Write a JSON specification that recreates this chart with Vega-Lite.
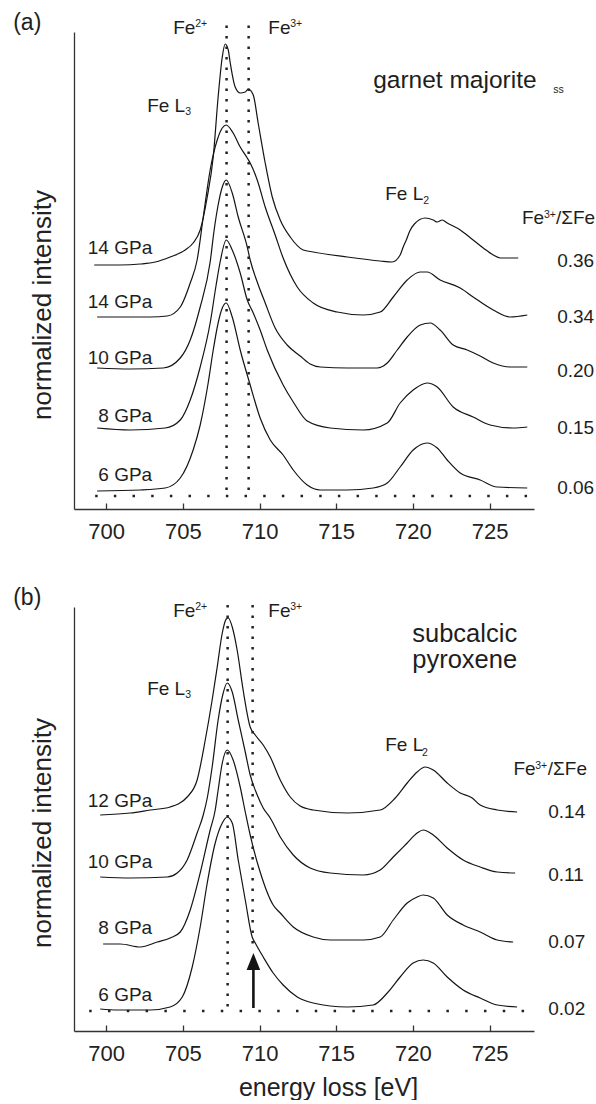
{
"$schema": "https://vega.github.io/schema/vega-lite/v6.json",
"padding": {"left": 13, "top": 12, "right": 0, "bottom": 0},
"background": "white",
"spacing": 98,
"bounds": "flush",
"config": {"view": {"stroke": null}, "font": "Liberation Sans", "text": {"font": "Liberation Sans"}},
"datasets": {
"spectra": [
{"p":"a","s":"a1","E":699.22,"I":24.4},{"p":"a","s":"a1","E":700.91,"I":24.4},{"p":"a","s":"a1","E":702.22,"I":24.5},{"p":"a","s":"a1","E":703.2,"I":24.7},{"p":"a","s":"a1","E":704.17,"I":25.2},{"p":"a","s":"a1","E":705.15,"I":25.9},{"p":"a","s":"a1","E":705.67,"I":26.6},{"p":"a","s":"a1","E":706.13,"I":27.9},{"p":"a","s":"a1","E":706.59,"I":31.2},{"p":"a","s":"a1","E":706.98,"I":35.2},{"p":"a","s":"a1","E":707.3,"I":41.2},{"p":"a","s":"a1","E":707.57,"I":45.2},{"p":"a","s":"a1","E":707.76,"I":46.5},{"p":"a","s":"a1","E":707.96,"I":45.9},{"p":"a","s":"a1","E":708.09,"I":44.6},{"p":"a","s":"a1","E":708.41,"I":42.2},{"p":"a","s":"a1","E":708.74,"I":41.6},{"p":"a","s":"a1","E":709.07,"I":41.7},{"p":"a","s":"a1","E":709.26,"I":42.0},{"p":"a","s":"a1","E":709.59,"I":41.4},{"p":"a","s":"a1","E":709.91,"I":38.6},{"p":"a","s":"a1","E":710.37,"I":34.6},{"p":"a","s":"a1","E":710.83,"I":31.2},{"p":"a","s":"a1","E":711.35,"I":28.9},{"p":"a","s":"a1","E":712.0,"I":27.2},{"p":"a","s":"a1","E":712.85,"I":25.9},{"p":"a","s":"a1","E":713.5,"I":25.7},{"p":"a","s":"a1","E":715.72,"I":25.2},{"p":"a","s":"a1","E":717.87,"I":24.8},{"p":"a","s":"a1","E":718.65,"I":24.7},{"p":"a","s":"a1","E":719.17,"I":25.4},{"p":"a","s":"a1","E":719.37,"I":26.2},{"p":"a","s":"a1","E":719.57,"I":26.9},{"p":"a","s":"a1","E":719.8,"I":27.8},{"p":"a","s":"a1","E":720.1,"I":28.5},{"p":"a","s":"a1","E":720.8,"I":29.1},{"p":"a","s":"a1","E":721.33,"I":28.9},{"p":"a","s":"a1","E":721.59,"I":28.7},{"p":"a","s":"a1","E":721.91,"I":28.9},{"p":"a","s":"a1","E":722.24,"I":28.6},{"p":"a","s":"a1","E":723.09,"I":27.9},{"p":"a","s":"a1","E":723.93,"I":26.9},{"p":"a","s":"a1","E":724.59,"I":26.1},{"p":"a","s":"a1","E":725.24,"I":25.4},{"p":"a","s":"a1","E":725.7,"I":25.1},{"p":"a","s":"a1","E":726.87,"I":25.1},
{"p":"a","s":"a2","E":699.41,"I":19.2},{"p":"a","s":"a2","E":700.91,"I":19.2},{"p":"a","s":"a2","E":702.87,"I":19.2},{"p":"a","s":"a2","E":703.98,"I":19.3},{"p":"a","s":"a2","E":704.83,"I":20.2},{"p":"a","s":"a2","E":705.48,"I":22.6},{"p":"a","s":"a2","E":705.93,"I":24.9},{"p":"a","s":"a2","E":706.33,"I":29.2},{"p":"a","s":"a2","E":706.78,"I":33.9},{"p":"a","s":"a2","E":707.24,"I":36.9},{"p":"a","s":"a2","E":707.57,"I":38.1},{"p":"a","s":"a2","E":707.83,"I":38.4},{"p":"a","s":"a2","E":708.28,"I":37.6},{"p":"a","s":"a2","E":708.74,"I":36.2},{"p":"a","s":"a2","E":709.2,"I":35.1},{"p":"a","s":"a2","E":709.39,"I":34.6},{"p":"a","s":"a2","E":709.85,"I":32.9},{"p":"a","s":"a2","E":710.37,"I":30.2},{"p":"a","s":"a2","E":711.02,"I":27.4},{"p":"a","s":"a2","E":711.54,"I":25.1},{"p":"a","s":"a2","E":712.46,"I":22.2},{"p":"a","s":"a2","E":713.5,"I":20.6},{"p":"a","s":"a2","E":715.07,"I":19.7},{"p":"a","s":"a2","E":716.76,"I":19.4},{"p":"a","s":"a2","E":717.87,"I":19.7},{"p":"a","s":"a2","E":718.72,"I":21.2},{"p":"a","s":"a2","E":719.63,"I":22.9},{"p":"a","s":"a2","E":720.48,"I":23.7},{"p":"a","s":"a2","E":720.93,"I":23.7},{"p":"a","s":"a2","E":721.78,"I":22.9},{"p":"a","s":"a2","E":723.09,"I":22.1},{"p":"a","s":"a2","E":723.93,"I":21.2},{"p":"a","s":"a2","E":725.24,"I":19.9},{"p":"a","s":"a2","E":726.35,"I":19.2},{"p":"a","s":"a2","E":727.46,"I":19.4},
{"p":"a","s":"a3","E":699.41,"I":14.1},{"p":"a","s":"a3","E":701.57,"I":14.0},{"p":"a","s":"a3","E":703.72,"I":14.1},{"p":"a","s":"a3","E":704.83,"I":15.1},{"p":"a","s":"a3","E":705.48,"I":16.9},{"p":"a","s":"a3","E":706.13,"I":20.2},{"p":"a","s":"a3","E":706.78,"I":24.7},{"p":"a","s":"a3","E":707.04,"I":27.9},{"p":"a","s":"a3","E":707.3,"I":30.4},{"p":"a","s":"a3","E":707.57,"I":32.2},{"p":"a","s":"a3","E":707.83,"I":32.9},{"p":"a","s":"a3","E":708.22,"I":31.6},{"p":"a","s":"a3","E":708.61,"I":29.2},{"p":"a","s":"a3","E":709.2,"I":26.2},{"p":"a","s":"a3","E":709.39,"I":24.9},{"p":"a","s":"a3","E":709.85,"I":22.7},{"p":"a","s":"a3","E":710.37,"I":20.6},{"p":"a","s":"a3","E":711.02,"I":18.1},{"p":"a","s":"a3","E":711.8,"I":16.4},{"p":"a","s":"a3","E":712.65,"I":15.3},{"p":"a","s":"a3","E":713.3,"I":14.5},{"p":"a","s":"a3","E":713.96,"I":14.2},{"p":"a","s":"a3","E":715.72,"I":14.1},{"p":"a","s":"a3","E":717.67,"I":14.1},{"p":"a","s":"a3","E":718.33,"I":14.6},{"p":"a","s":"a3","E":718.98,"I":15.9},{"p":"a","s":"a3","E":719.63,"I":17.2},{"p":"a","s":"a3","E":720.48,"I":18.4},{"p":"a","s":"a3","E":721.13,"I":18.6},{"p":"a","s":"a3","E":721.78,"I":17.9},{"p":"a","s":"a3","E":722.63,"I":16.4},{"p":"a","s":"a3","E":723.54,"I":15.9},{"p":"a","s":"a3","E":724.39,"I":15.3},{"p":"a","s":"a3","E":725.24,"I":14.6},{"p":"a","s":"a3","E":726.35,"I":14.2},{"p":"a","s":"a3","E":727.46,"I":14.2},
{"p":"a","s":"a4","E":699.41,"I":8.1},{"p":"a","s":"a4","E":701.57,"I":7.9},{"p":"a","s":"a4","E":703.85,"I":8.1},{"p":"a","s":"a4","E":704.83,"I":8.9},{"p":"a","s":"a4","E":705.48,"I":10.9},{"p":"a","s":"a4","E":706.13,"I":14.2},{"p":"a","s":"a4","E":706.78,"I":18.6},{"p":"a","s":"a4","E":707.17,"I":22.4},{"p":"a","s":"a4","E":707.43,"I":24.7},{"p":"a","s":"a4","E":707.83,"I":26.9},{"p":"a","s":"a4","E":708.22,"I":25.9},{"p":"a","s":"a4","E":708.74,"I":23.6},{"p":"a","s":"a4","E":709.2,"I":20.9},{"p":"a","s":"a4","E":709.59,"I":19.6},{"p":"a","s":"a4","E":710.04,"I":17.9},{"p":"a","s":"a4","E":710.5,"I":15.9},{"p":"a","s":"a4","E":711.54,"I":12.4},{"p":"a","s":"a4","E":712.2,"I":10.7},{"p":"a","s":"a4","E":713.11,"I":8.8},{"p":"a","s":"a4","E":714.61,"I":8.1},{"p":"a","s":"a4","E":716.76,"I":7.9},{"p":"a","s":"a4","E":718.33,"I":8.6},{"p":"a","s":"a4","E":719.17,"I":10.6},{"p":"a","s":"a4","E":720.02,"I":11.9},{"p":"a","s":"a4","E":720.93,"I":12.6},{"p":"a","s":"a4","E":721.59,"I":12.2},{"p":"a","s":"a4","E":722.63,"I":10.2},{"p":"a","s":"a4","E":723.93,"I":9.2},{"p":"a","s":"a4","E":725.04,"I":8.4},{"p":"a","s":"a4","E":726.54,"I":8.1},{"p":"a","s":"a4","E":727.46,"I":8.2},
{"p":"a","s":"a5","E":699.41,"I":1.8},{"p":"a","s":"a5","E":702.22,"I":1.9},{"p":"a","s":"a5","E":703.85,"I":2.1},{"p":"a","s":"a5","E":704.83,"I":3.1},{"p":"a","s":"a5","E":705.67,"I":5.9},{"p":"a","s":"a5","E":706.13,"I":8.4},{"p":"a","s":"a5","E":706.65,"I":12.6},{"p":"a","s":"a5","E":706.98,"I":15.9},{"p":"a","s":"a5","E":707.3,"I":18.6},{"p":"a","s":"a5","E":707.57,"I":20.1},{"p":"a","s":"a5","E":707.83,"I":20.6},{"p":"a","s":"a5","E":708.22,"I":19.2},{"p":"a","s":"a5","E":708.74,"I":15.9},{"p":"a","s":"a5","E":709.39,"I":12.4},{"p":"a","s":"a5","E":710.04,"I":9.1},{"p":"a","s":"a5","E":710.7,"I":6.9},{"p":"a","s":"a5","E":711.54,"I":5.4},{"p":"a","s":"a5","E":712.2,"I":3.9},{"p":"a","s":"a5","E":713.11,"I":2.4},{"p":"a","s":"a5","E":713.96,"I":1.9},{"p":"a","s":"a5","E":715.72,"I":1.9},{"p":"a","s":"a5","E":717.41,"I":2.1},{"p":"a","s":"a5","E":718.33,"I":2.6},{"p":"a","s":"a5","E":719.17,"I":4.2},{"p":"a","s":"a5","E":720.02,"I":5.9},{"p":"a","s":"a5","E":720.93,"I":6.6},{"p":"a","s":"a5","E":721.59,"I":6.1},{"p":"a","s":"a5","E":722.24,"I":4.9},{"p":"a","s":"a5","E":723.09,"I":3.6},{"p":"a","s":"a5","E":724.39,"I":2.9},{"p":"a","s":"a5","E":725.5,"I":2.2},{"p":"a","s":"a5","E":727.46,"I":2.1},
{"p":"b","s":"b1","E":699.61,"I":21.6},{"p":"b","s":"b1","E":701.57,"I":21.8},{"p":"b","s":"b1","E":702.87,"I":22.1},{"p":"b","s":"b1","E":704.17,"I":22.4},{"p":"b","s":"b1","E":705.28,"I":23.4},{"p":"b","s":"b1","E":705.93,"I":25.1},{"p":"b","s":"b1","E":706.46,"I":29.1},{"p":"b","s":"b1","E":706.91,"I":33.1},{"p":"b","s":"b1","E":707.24,"I":36.4},{"p":"b","s":"b1","E":707.57,"I":39.8},{"p":"b","s":"b1","E":707.83,"I":41.2},{"p":"b","s":"b1","E":707.96,"I":41.3},{"p":"b","s":"b1","E":708.22,"I":40.4},{"p":"b","s":"b1","E":708.54,"I":38.1},{"p":"b","s":"b1","E":708.93,"I":34.1},{"p":"b","s":"b1","E":709.39,"I":30.4},{"p":"b","s":"b1","E":709.72,"I":29.6},{"p":"b","s":"b1","E":710.24,"I":28.6},{"p":"b","s":"b1","E":710.7,"I":27.4},{"p":"b","s":"b1","E":711.35,"I":25.1},{"p":"b","s":"b1","E":712.0,"I":23.4},{"p":"b","s":"b1","E":712.65,"I":22.5},{"p":"b","s":"b1","E":713.5,"I":22.1},{"p":"b","s":"b1","E":715.72,"I":21.8},{"p":"b","s":"b1","E":717.87,"I":22.1},{"p":"b","s":"b1","E":718.85,"I":23.3},{"p":"b","s":"b1","E":719.63,"I":24.8},{"p":"b","s":"b1","E":720.28,"I":25.9},{"p":"b","s":"b1","E":720.8,"I":26.4},{"p":"b","s":"b1","E":721.33,"I":26.1},{"p":"b","s":"b1","E":722.24,"I":24.8},{"p":"b","s":"b1","E":723.09,"I":23.8},{"p":"b","s":"b1","E":723.87,"I":23.3},{"p":"b","s":"b1","E":724.39,"I":22.6},{"p":"b","s":"b1","E":725.5,"I":22.1},{"p":"b","s":"b1","E":726.8,"I":21.9},
{"p":"b","s":"b2","E":699.61,"I":15.4},{"p":"b","s":"b2","E":701.57,"I":15.3},{"p":"b","s":"b2","E":703.98,"I":15.4},{"p":"b","s":"b2","E":704.63,"I":15.8},{"p":"b","s":"b2","E":705.28,"I":17.1},{"p":"b","s":"b2","E":705.93,"I":19.8},{"p":"b","s":"b2","E":706.33,"I":21.6},{"p":"b","s":"b2","E":706.59,"I":23.3},{"p":"b","s":"b2","E":706.91,"I":26.4},{"p":"b","s":"b2","E":707.3,"I":31.1},{"p":"b","s":"b2","E":707.63,"I":33.8},{"p":"b","s":"b2","E":707.89,"I":34.8},{"p":"b","s":"b2","E":708.22,"I":33.9},{"p":"b","s":"b2","E":708.61,"I":31.1},{"p":"b","s":"b2","E":709.07,"I":27.9},{"p":"b","s":"b2","E":709.39,"I":25.6},{"p":"b","s":"b2","E":709.85,"I":23.6},{"p":"b","s":"b2","E":710.24,"I":22.3},{"p":"b","s":"b2","E":710.7,"I":21.3},{"p":"b","s":"b2","E":711.35,"I":19.4},{"p":"b","s":"b2","E":712.2,"I":17.6},{"p":"b","s":"b2","E":713.3,"I":16.3},{"p":"b","s":"b2","E":714.61,"I":15.8},{"p":"b","s":"b2","E":716.76,"I":15.6},{"p":"b","s":"b2","E":717.87,"I":16.1},{"p":"b","s":"b2","E":718.72,"I":17.4},{"p":"b","s":"b2","E":719.63,"I":18.8},{"p":"b","s":"b2","E":720.28,"I":19.8},{"p":"b","s":"b2","E":720.67,"I":20.1},{"p":"b","s":"b2","E":721.33,"I":19.6},{"p":"b","s":"b2","E":722.24,"I":18.3},{"p":"b","s":"b2","E":723.28,"I":17.1},{"p":"b","s":"b2","E":724.39,"I":16.4},{"p":"b","s":"b2","E":725.5,"I":15.9},{"p":"b","s":"b2","E":726.67,"I":15.8},
{"p":"b","s":"b3","E":699.8,"I":8.7},{"p":"b","s":"b3","E":700.91,"I":8.7},{"p":"b","s":"b3","E":702.22,"I":8.4},{"p":"b","s":"b3","E":703.33,"I":8.9},{"p":"b","s":"b3","E":704.17,"I":9.3},{"p":"b","s":"b3","E":704.83,"I":9.9},{"p":"b","s":"b3","E":705.48,"I":12.1},{"p":"b","s":"b3","E":706.13,"I":15.8},{"p":"b","s":"b3","E":706.78,"I":20.1},{"p":"b","s":"b3","E":707.11,"I":22.1},{"p":"b","s":"b3","E":707.3,"I":24.1},{"p":"b","s":"b3","E":707.57,"I":26.8},{"p":"b","s":"b3","E":707.89,"I":28.1},{"p":"b","s":"b3","E":708.28,"I":27.1},{"p":"b","s":"b3","E":708.74,"I":24.4},{"p":"b","s":"b3","E":709.07,"I":21.9},{"p":"b","s":"b3","E":709.39,"I":19.6},{"p":"b","s":"b3","E":710.04,"I":15.9},{"p":"b","s":"b3","E":710.89,"I":12.6},{"p":"b","s":"b3","E":711.35,"I":11.8},{"p":"b","s":"b3","E":712.2,"I":10.4},{"p":"b","s":"b3","E":713.5,"I":9.4},{"p":"b","s":"b3","E":714.61,"I":9.1},{"p":"b","s":"b3","E":716.76,"I":9.1},{"p":"b","s":"b3","E":717.87,"I":9.4},{"p":"b","s":"b3","E":718.72,"I":11.1},{"p":"b","s":"b3","E":719.63,"I":12.8},{"p":"b","s":"b3","E":720.28,"I":13.4},{"p":"b","s":"b3","E":720.67,"I":13.6},{"p":"b","s":"b3","E":721.33,"I":13.3},{"p":"b","s":"b3","E":722.24,"I":11.6},{"p":"b","s":"b3","E":723.28,"I":10.6},{"p":"b","s":"b3","E":724.39,"I":9.9},{"p":"b","s":"b3","E":725.5,"I":9.1},{"p":"b","s":"b3","E":726.54,"I":8.9},
{"p":"b","s":"b4","E":699.61,"I":2.2},{"p":"b","s":"b4","E":700.72,"I":2.1},{"p":"b","s":"b4","E":702.87,"I":2.1},{"p":"b","s":"b4","E":704.17,"I":2.4},{"p":"b","s":"b4","E":704.96,"I":3.4},{"p":"b","s":"b4","E":705.61,"I":6.4},{"p":"b","s":"b4","E":706.13,"I":10.4},{"p":"b","s":"b4","E":706.59,"I":14.8},{"p":"b","s":"b4","E":707.11,"I":18.8},{"p":"b","s":"b4","E":707.57,"I":20.8},{"p":"b","s":"b4","E":707.89,"I":21.4},{"p":"b","s":"b4","E":708.22,"I":20.8},{"p":"b","s":"b4","E":708.61,"I":17.1},{"p":"b","s":"b4","E":709.07,"I":13.1},{"p":"b","s":"b4","E":709.52,"I":9.4},{"p":"b","s":"b4","E":709.72,"I":8.8},{"p":"b","s":"b4","E":710.24,"I":7.4},{"p":"b","s":"b4","E":710.89,"I":5.8},{"p":"b","s":"b4","E":711.54,"I":4.6},{"p":"b","s":"b4","E":712.46,"I":3.4},{"p":"b","s":"b4","E":713.5,"I":2.8},{"p":"b","s":"b4","E":715.72,"I":2.4},{"p":"b","s":"b4","E":717.41,"I":2.6},{"p":"b","s":"b4","E":718.33,"I":3.8},{"p":"b","s":"b4","E":719.17,"I":5.4},{"p":"b","s":"b4","E":720.02,"I":6.8},{"p":"b","s":"b4","E":720.67,"I":7.1},{"p":"b","s":"b4","E":721.33,"I":6.8},{"p":"b","s":"b4","E":722.24,"I":5.4},{"p":"b","s":"b4","E":723.28,"I":4.1},{"p":"b","s":"b4","E":724.39,"I":3.3},{"p":"b","s":"b4","E":725.5,"I":2.6},{"p":"b","s":"b4","E":726.8,"I":2.4}
],
"vguide": [
{"p":"a","E":707.85,"top":48.35,"bottom":1.3},{"p":"a","E":709.29,"top":48.35,"bottom":1.3},
{"p":"b","E":707.92,"top":42.6,"bottom":2.0},{"p":"b","E":709.55,"top":42.6,"bottom":8.6}
],
"hguide": [
{"p":"a","E1":699.28,"E2":728.5,"I":1.3},
{"p":"b","E1":698.89,"E2":728.3,"I":2.0}
],
"arrow": [
{"p":"b","E":709.6,"I1":2.3,"I2":6.6,"Ihead":6.95}
],
"labels": [
{"p":"a","r":"panel","t":"(a)","E":693.935,"I":47.9},
{"p":"a","r":"script","t":"2+","E":705.8,"I":48.2},
{"p":"a","r":"script","t":"3+","E":712.0,"I":48.2},
{"p":"a","r":"script","t":"3","E":705.15,"I":39.4},
{"p":"a","r":"script","t":"2","E":720.67,"I":30.5},
{"p":"a","r":"script","t":"ss","E":729.15,"I":41.6},
{"p":"a","r":"script","t":"3+","E":728.55,"I":29.07},
{"p":"a","r":"label","t":"Fe","E":704.37,"I":47.5},
{"p":"a","r":"label","t":"Fe","E":710.57,"I":47.5},
{"p":"a","r":"label","t":"Fe L","E":702.67,"I":39.7},
{"p":"a","r":"label","t":"Fe L","E":718.2,"I":30.9},
{"p":"a","r":"label","t":"Fe","E":727.11,"I":28.47},
{"p":"a","r":"label","t":"/ΣFe","E":729.33,"I":28.47},
{"p":"a","r":"label","t":"0.36","E":729.41,"I":24.23},
{"p":"a","r":"label","t":"0.34","E":729.41,"I":18.63},
{"p":"a","r":"label","t":"0.20","E":729.41,"I":13.23},
{"p":"a","r":"label","t":"0.15","E":729.41,"I":7.47},
{"p":"a","r":"label","t":"0.06","E":729.41,"I":1.5},
{"p":"a","r":"mineral","t":"garnet majorite","E":717.41,"I":42.07},
{"p":"a","r":"pressure","t":"14 GPa","E":703.0,"I":25.55},
{"p":"a","r":"pressure","t":"14 GPa","E":703.0,"I":20.07},
{"p":"a","r":"pressure","t":"10 GPa","E":703.0,"I":14.5},
{"p":"a","r":"pressure","t":"8 GPa","E":703.0,"I":8.73},
{"p":"a","r":"pressure","t":"6 GPa","E":703.0,"I":2.83},
{"p":"b","r":"panel","t":"(b)","E":693.935,"I":42.6},
{"p":"b","r":"script","t":"2+","E":705.8,"I":42.1},
{"p":"b","r":"script","t":"3+","E":712.0,"I":42.1},
{"p":"b","r":"script","t":"3","E":705.15,"I":33.27},
{"p":"b","r":"script","t":"2","E":720.6,"I":27.53},
{"p":"b","r":"script","t":"3+","E":727.98,"I":26.2},
{"p":"b","r":"label","t":"Fe","E":726.56,"I":25.6},
{"p":"b","r":"label","t":"/ΣFe","E":728.8,"I":25.6},
{"p":"b","r":"label","t":"Fe","E":704.37,"I":41.4},
{"p":"b","r":"label","t":"Fe","E":710.57,"I":41.4},
{"p":"b","r":"label","t":"Fe L","E":702.67,"I":33.6},
{"p":"b","r":"label","t":"Fe L","E":718.2,"I":28.0},
{"p":"b","r":"label","t":"0.14","E":728.83,"I":21.27},
{"p":"b","r":"label","t":"0.11","E":728.83,"I":15.0},
{"p":"b","r":"label","t":"0.07","E":728.83,"I":8.27},
{"p":"b","r":"label","t":"0.02","E":728.83,"I":1.6},
{"p":"b","r":"mineral","t":"subcalcic","E":719.96,"I":38.93},
{"p":"b","r":"mineral","t":"pyroxene","E":719.96,"I":36.27},
{"p":"b","r":"pressure","t":"12 GPa","E":703.0,"I":22.44},
{"p":"b","r":"pressure","t":"10 GPa","E":703.0,"I":16.27},
{"p":"b","r":"pressure","t":"8 GPa","E":703.0,"I":9.67},
{"p":"b","r":"pressure","t":"6 GPa","E":703.0,"I":3.0}
]
},
"vconcat": [
{
"width": 460, "height": 477,
"layer": [
{"data": {"name": "spectra"}, "transform": [{"filter": "datum.p === 'a'"}],
 "mark": {"type": "line", "interpolate": "monotone", "stroke": "#141414", "strokeWidth": 1.2},
 "encoding": {
  "x": {"field": "E", "type": "quantitative", "scale": {"domain": [697.9, 727.9], "nice": false, "zero": false},
        "axis": {"values": [700,705,710,715,720,725], "grid": false, "title": null, "tickSize": -6, "labelPadding": 35.5, "labelBaseline": "alphabetic", "labelFontSize": 22, "labelFont": "Liberation Sans", "labelColor": "#222", "domainColor": "#333", "tickColor": "#333", "domainWidth": 1.3, "tickWidth": 1.3, "labelFlush": false, "labelOverlap": false}},
  "y": {"field": "I", "type": "quantitative", "scale": {"domain": [0, 47.7], "nice": false, "zero": false},
        "axis": {"grid": false, "ticks": false, "labels": false, "domainColor": "#333", "domainWidth": 1.3, "title": "normalized intensity", "titleFont": "Liberation Sans", "titleFontSize": 26, "titleFontWeight": "normal", "titleColor": "#222", "titleAngle": -90, "titleX": -24, "titleY": 272.5, "titleBaseline": "alphabetic", "titleAlign": "center"}},
  "detail": {"field": "s"}
 }},
{"data": {"name": "vguide"}, "transform": [{"filter": "datum.p === 'a'"}],
 "mark": {"type": "rule", "strokeDash": [2.5, 8], "strokeWidth": 2.5, "color": "#222", "strokeCap": "butt"},
 "encoding": {"x": {"field": "E", "type": "quantitative"},
  "y": {"field": "top", "type": "quantitative"}, "y2": {"field": "bottom"}}},
{"data": {"name": "hguide"}, "transform": [{"filter": "datum.p === 'a'"}],
 "mark": {"type": "rule", "strokeDash": [2.5, 16.17], "strokeWidth": 2.5, "color": "#222", "strokeCap": "butt"},
 "encoding": {"x": {"field": "E1", "type": "quantitative"}, "x2": {"field": "E2"},
  "y": {"field": "I", "type": "quantitative"}}},
{"data": {"name": "labels"}, "transform": [{"filter": "datum.p === 'a' && datum.r === 'label'"}],
 "mark": {"type": "text", "align": "left", "baseline": "alphabetic", "fontSize": 19, "font": "Liberation Sans", "color": "#1e1e1e"},
 "encoding": {"x": {"field": "E", "type": "quantitative"}, "y": {"field": "I", "type": "quantitative"}, "text": {"field": "t"}}},
{"data": {"name": "labels"}, "transform": [{"filter": "datum.p === 'a' && datum.r === 'pressure'"}],
 "mark": {"type": "text", "align": "right", "baseline": "alphabetic", "fontSize": 19, "font": "Liberation Sans", "color": "#1e1e1e"},
 "encoding": {"x": {"field": "E", "type": "quantitative"}, "y": {"field": "I", "type": "quantitative"}, "text": {"field": "t"}}},
{"data": {"name": "labels"}, "transform": [{"filter": "datum.p === 'a' && datum.r === 'script'"}],
 "mark": {"type": "text", "align": "left", "baseline": "alphabetic", "fontSize": 10.5, "font": "Liberation Sans", "color": "#1e1e1e"},
 "encoding": {"x": {"field": "E", "type": "quantitative"}, "y": {"field": "I", "type": "quantitative"}, "text": {"field": "t"}}},
{"data": {"name": "labels"}, "transform": [{"filter": "datum.p === 'a' && datum.r === 'mineral'"}],
 "mark": {"type": "text", "align": "left", "baseline": "alphabetic", "fontSize": 24.5, "font": "Liberation Sans", "color": "#1e1e1e"},
 "encoding": {"x": {"field": "E", "type": "quantitative"}, "y": {"field": "I", "type": "quantitative"}, "text": {"field": "t"}}},
{"data": {"name": "labels"}, "transform": [{"filter": "datum.p === 'a' && datum.r === 'panel'"}],
 "mark": {"type": "text", "align": "left", "baseline": "alphabetic", "fontSize": 23, "font": "Liberation Sans", "color": "#1e1e1e"},
 "encoding": {"x": {"field": "E", "type": "quantitative"}, "y": {"field": "I", "type": "quantitative"}, "text": {"field": "t"}}}
]
},
{
"width": 460, "height": 424,
"layer": [
{"data": {"name": "spectra"}, "transform": [{"filter": "datum.p === 'b'"}],
 "mark": {"type": "line", "interpolate": "monotone", "stroke": "#141414", "strokeWidth": 1.2},
 "encoding": {
  "x": {"field": "E", "type": "quantitative", "scale": {"domain": [697.9, 727.9], "nice": false, "zero": false},
        "axis": {"values": [700,705,710,715,720,725], "grid": false, "tickSize": -6, "labelPadding": 35.5, "labelBaseline": "alphabetic", "labelFontSize": 22, "labelFont": "Liberation Sans", "labelColor": "#222", "domainColor": "#333", "tickColor": "#333", "domainWidth": 1.3, "tickWidth": 1.3, "labelFlush": false, "labelOverlap": false,
                 "title": "energy loss [eV]", "titleFont": "Liberation Sans", "titleFontSize": 25, "titleFontWeight": "normal", "titleColor": "#222", "titleX": 254, "titleY": 64, "titleBaseline": "alphabetic", "titleAlign": "center"}},
  "y": {"field": "I", "type": "quantitative", "scale": {"domain": [0, 42.4], "nice": false, "zero": false},
        "axis": {"grid": false, "ticks": false, "labels": false, "domainColor": "#333", "domainWidth": 1.3, "title": "normalized intensity", "titleFont": "Liberation Sans", "titleFontSize": 26, "titleFontWeight": "normal", "titleColor": "#222", "titleAngle": -90, "titleX": -24, "titleY": 225.5, "titleBaseline": "alphabetic", "titleAlign": "center"}},
  "detail": {"field": "s"}
 }},
{"data": {"name": "vguide"}, "transform": [{"filter": "datum.p === 'b'"}],
 "mark": {"type": "rule", "strokeDash": [2.5, 8], "strokeWidth": 2.5, "color": "#222", "strokeCap": "butt"},
 "encoding": {"x": {"field": "E", "type": "quantitative"},
  "y": {"field": "top", "type": "quantitative"}, "y2": {"field": "bottom"}}},
{"data": {"name": "hguide"}, "transform": [{"filter": "datum.p === 'b'"}],
 "mark": {"type": "rule", "strokeDash": [2.5, 16.3], "strokeWidth": 2.5, "color": "#222", "strokeCap": "butt"},
 "encoding": {"x": {"field": "E1", "type": "quantitative"}, "x2": {"field": "E2"},
  "y": {"field": "I", "type": "quantitative"}}},
{"data": {"name": "arrow"},
 "mark": {"type": "rule", "strokeWidth": 2.6, "color": "#141414"},
 "encoding": {"x": {"field": "E", "type": "quantitative"},
  "y": {"field": "I1", "type": "quantitative"}, "y2": {"field": "I2"}}},
{"data": {"name": "arrow"},
 "mark": {"type": "point", "shape": "M0,-1L-0.8,1L0.8,1Z", "size": 289, "filled": true, "opacity": 1, "color": "#141414"},
 "encoding": {"x": {"field": "E", "type": "quantitative"},
  "y": {"field": "Ihead", "type": "quantitative"}}},
{"data": {"name": "labels"}, "transform": [{"filter": "datum.p === 'b' && datum.r === 'label'"}],
 "mark": {"type": "text", "align": "left", "baseline": "alphabetic", "fontSize": 19, "font": "Liberation Sans", "color": "#1e1e1e"},
 "encoding": {"x": {"field": "E", "type": "quantitative"}, "y": {"field": "I", "type": "quantitative"}, "text": {"field": "t"}}},
{"data": {"name": "labels"}, "transform": [{"filter": "datum.p === 'b' && datum.r === 'pressure'"}],
 "mark": {"type": "text", "align": "right", "baseline": "alphabetic", "fontSize": 19, "font": "Liberation Sans", "color": "#1e1e1e"},
 "encoding": {"x": {"field": "E", "type": "quantitative"}, "y": {"field": "I", "type": "quantitative"}, "text": {"field": "t"}}},
{"data": {"name": "labels"}, "transform": [{"filter": "datum.p === 'b' && datum.r === 'script'"}],
 "mark": {"type": "text", "align": "left", "baseline": "alphabetic", "fontSize": 10.5, "font": "Liberation Sans", "color": "#1e1e1e"},
 "encoding": {"x": {"field": "E", "type": "quantitative"}, "y": {"field": "I", "type": "quantitative"}, "text": {"field": "t"}}},
{"data": {"name": "labels"}, "transform": [{"filter": "datum.p === 'b' && datum.r === 'mineral'"}],
 "mark": {"type": "text", "align": "left", "baseline": "alphabetic", "fontSize": 25.5, "font": "Liberation Sans", "color": "#1e1e1e"},
 "encoding": {"x": {"field": "E", "type": "quantitative"}, "y": {"field": "I", "type": "quantitative"}, "text": {"field": "t"}}},
{"data": {"name": "labels"}, "transform": [{"filter": "datum.p === 'b' && datum.r === 'panel'"}],
 "mark": {"type": "text", "align": "left", "baseline": "alphabetic", "fontSize": 23, "font": "Liberation Sans", "color": "#1e1e1e"},
 "encoding": {"x": {"field": "E", "type": "quantitative"}, "y": {"field": "I", "type": "quantitative"}, "text": {"field": "t"}}}
]
}
]
}
